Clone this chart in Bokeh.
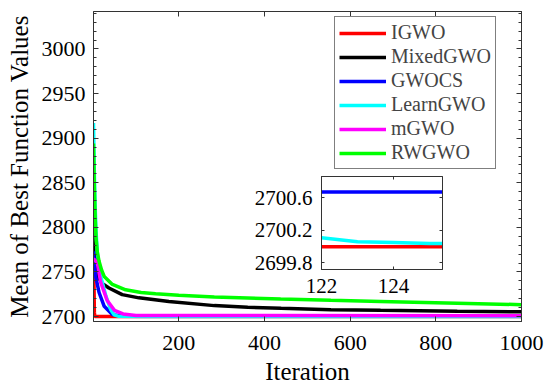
from bokeh.plotting import figure
from bokeh.models import (Range1d, FixedTicker, LinearAxis, CustomJSTickFormatter,
                          PrintfTickFormatter, Legend, LegendItem)
from bokeh.layouts import column
from bokeh.embed import file_html
from bokeh.resources import INLINE

# ---------------- data ----------------
names = ["IGWO", "MixedGWO", "GWOCS", "LearnGWO", "mGWO", "RWGWO"]
colors = ["#ff0000", "#000000", "#0000ff", "#00ffff", "#ff00ff", "#00ff00"]

igwo_x = [1, 2, 3, 4, 122, 1000]
igwo_y = [2771, 2745, 2705, 2700.0, 2700.0, 2700.0]

mixed_x = [1, 3, 6, 11, 22, 37, 68, 107, 177, 283, 361, 439, 555, 671, 850, 1000]
mixed_y = [2820, 2790, 2760, 2745, 2737, 2732, 2724.6, 2721, 2717, 2712.3, 2710.4,
           2709.3, 2707.8, 2707.0, 2706.0, 2705.3]

gwocs_x = [1, 3, 6, 14, 26, 45, 68, 100, 1000]
gwocs_y = [2773, 2760, 2745, 2727, 2711.5, 2702.2, 2700.8, 2700.67, 2700.67]

learn_x = [1, 3, 5, 7, 10, 18, 30, 41, 49, 60, 122, 123, 124, 125, 126, 1000]
learn_y = [2917, 2860, 2822, 2795, 2771, 2745, 2723, 2708, 2702, 2700.3,
           2700.11, 2700.06, 2700.05, 2700.04, 2700.035, 2700.0]

mgwo_x = [1, 5, 10, 18, 33, 50, 70, 100, 1000]
mgwo_y = [2765, 2763, 2760, 2738, 2718, 2707, 2703, 2701.2, 2701.0]

rwgwo_x = [1, 3, 5, 7, 10, 14, 20, 26, 45, 76, 112, 146, 200, 283, 438, 555,
           671, 850, 1000]
rwgwo_y = [2894, 2845, 2810, 2788, 2772, 2762, 2752, 2745, 2736, 2730, 2727,
           2725.5, 2724, 2722, 2719.8, 2718.3, 2717, 2715, 2713.4]

series_x = [igwo_x, mixed_x, gwocs_x, learn_x, mgwo_x, rwgwo_x]
series_y = [igwo_y, mixed_y, gwocs_y, learn_y, mgwo_y, rwgwo_y]

x_ticks = [200, 400, 600, 800, 1000]
y_ticks = [2700, 2750, 2800, 2850, 2900, 2950, 3000]
y_minor = [2700, 2710, 2720, 2730, 2740, 2750, 2760, 2770, 2780, 2790, 2800,
           2810, 2820, 2830, 2840, 2850, 2860, 2870, 2880, 2890, 2900, 2910,
           2920, 2930, 2940, 2950, 2960, 2970, 2980, 2990, 3000, 3010, 3020,
           3030, 3040]

inset_x_ticks = [122, 124]
inset_y_ticks = [2699.8, 2700.2, 2700.6]

FONT = "Liberation Serif"
AXC = "#333333"
blank = CustomJSTickFormatter(code="return ''")


def style_axis(ax, size="22px", standoff=8, tick_in=5):
    ax.axis_line_color = AXC
    ax.major_tick_line_color = AXC
    ax.minor_tick_line_color = AXC
    ax.major_tick_in = tick_in
    ax.major_tick_out = 0
    ax.minor_tick_in = 3
    ax.minor_tick_out = 0
    ax.major_label_text_font = FONT
    ax.major_label_text_font_style = "normal"
    ax.major_label_text_font_size = size
    ax.major_label_text_color = "#000000"
    ax.major_label_standoff = standoff
    ax.axis_label_text_font = FONT
    ax.axis_label_text_font_size = "25px"
    ax.axis_label_text_font_style = "normal"
    ax.axis_label_text_color = "#000000"
    ax.axis_label_standoff = 0


def mirror_axes(fig, xt, yt, ytm, tick_in):
    ra = LinearAxis(ticker=FixedTicker(ticks=yt, minor_ticks=ytm), formatter=blank)
    ta = LinearAxis(ticker=FixedTicker(ticks=xt), formatter=blank)
    for ax in (ra, ta):
        style_axis(ax, size="1px", standoff=0, tick_in=tick_in)
    fig.add_layout(ra, "right")
    fig.add_layout(ta, "above")


# ---------------- main figure ----------------
p = figure(width=550, height=390, x_range=Range1d(1, 1000),
           y_range=Range1d(2694.5, 3042), output_backend="svg",
           toolbar_location=None, min_border_left=93, min_border_right=29,
           min_border_top=11, min_border_bottom=69)
p.grid.visible = False
p.outline_line_color = "#555555"
p.background_fill_color = "#ffffff"
p.border_fill_color = "#ffffff"

p.xaxis.ticker = FixedTicker(ticks=x_ticks)
p.yaxis.ticker = FixedTicker(ticks=y_ticks, minor_ticks=y_minor)
p.xaxis.axis_label = "Iteration"
p.yaxis.axis_label = "Mean of Best Function Values"
style_axis(p.xaxis[0], standoff=14)
style_axis(p.yaxis[0], standoff=8)
p.xaxis.axis_label_standoff = 5
p.yaxis.axis_label_standoff = 6
mirror_axes(p, x_ticks, y_ticks, y_minor, 5)

renderers = []
for xs, ys, c in zip(series_x, series_y, colors):
    r = p.line(xs, ys, line_color=c, line_width=3.5)
    renderers.append(r)

legend = Legend(items=[LegendItem(label=n, renderers=[r]) for n, r in zip(names, renderers)],
                location=(241, 152))
legend.label_text_font = FONT
legend.label_text_font_size = "20px"
legend.label_height = 20
legend.glyph_height = 20
legend.glyph_width = 47
legend.spacing = 1
legend.padding = 4
legend.margin = 0
legend.label_standoff = 5
legend.border_line_color = "#000000"
legend.border_line_width = 1
legend.background_fill_color = "#ffffff"
legend.background_fill_alpha = 1.0
p.add_layout(legend)

# ---------------- inset figure (same side borders as main, so frames align) ----------------
q = figure(width=243, height=131, x_range=Range1d(122, 125.36),
           y_range=Range1d(2699.72, 2700.86), output_backend="svg",
           toolbar_location=None, min_border_left=93, min_border_right=29,
           min_border_top=6, min_border_bottom=32)
q.grid.visible = False
q.outline_line_color = "#555555"
q.background_fill_color = "#ffffff"
q.border_fill_alpha = 0.0
q.xaxis.ticker = FixedTicker(ticks=inset_x_ticks)
q.yaxis.ticker = FixedTicker(ticks=inset_y_ticks)
q.yaxis.formatter = PrintfTickFormatter(format="%.1f")
for ax in q.xaxis + q.yaxis:
    style_axis(ax, size="21px", standoff=9, tick_in=3)
mirror_axes(q, inset_x_ticks, inset_y_ticks, [], 3)

for xs, ys, c in zip(series_x, series_y, colors):
    q.line(xs, ys, line_color=c, line_width=3.5)

q.margin = (-220, 0, 89, 228)

layout = column(p, q)
open("out.html", "w").write(file_html(layout, INLINE))
